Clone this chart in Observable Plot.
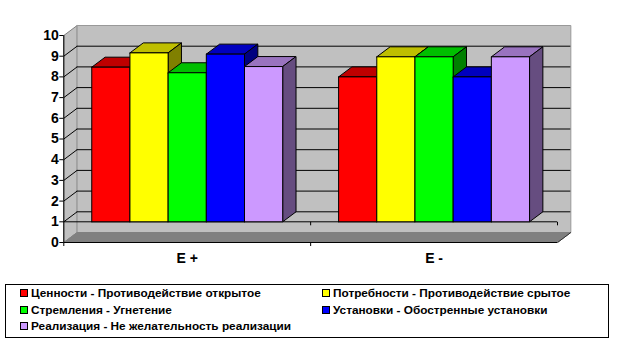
<!DOCTYPE html>
<html><head><meta charset="utf-8">
<script src="https://cdn.jsdelivr.net/npm/d3@7"></script>
<script src="https://cdn.jsdelivr.net/npm/@observablehq/plot@0.6"></script>
<style>
html,body{margin:0;padding:0;background:#fff;width:621px;height:357px;overflow:hidden}
svg{display:block;background:#fff}
#legend{position:absolute;left:5px;top:284px;width:602px;height:52px;border:1px solid #000;box-sizing:content-box;
 font:bold 11.8px "Liberation Sans",Arial,sans-serif;color:#000}
#legend div.i{position:absolute;white-space:nowrap;line-height:14px}
#legend span{position:absolute;left:-11px;top:3px;width:6px;height:6px;border:1px solid #000}
</style></head><body>
<div id="chart"></div><div id="legend"></div>
<script>
const categories = ["E +", "E -"];
const series = ["Ценности - Противодействие открытое","Потребности - Противодействие срытое","Стремления - Угнетение","Установки - Обостренные установки","Реализация - Не желательность реализации"];
const colors = ["#ff0000","#ffff00","#00ff00","#0000ff","#cc99ff"];
const valuesEplus = [8.47,9.16,8.2,9.1,8.5];
const valuesEminus = [8.0,8.97,8.97,8.0,8.97];
const yTicks = [0,1,2,3,4,5,6,7,8,9,10];
const axisBase = 1, barW = 0.1547, dX = 0.054, dY = 0.483;

function shade(c,k){const r=d3.rgb(c);return d3.rgb(r.r*k,r.g*k,r.b*k).formatHex();}
const polys=[];
function poly(id,pts,fill){for(const p of pts.concat([pts[0]]))polys.push({id,x:p[0],y:p[1],fill});}
[valuesEplus,valuesEminus].forEach((vals,g)=>{
  vals.forEach((v,s)=>{
    const x0=g+0.5+(s-2.5)*barW,x1=x0+barW,c=colors[s],id=g+"-"+s;
    poly(id+"t",[[x0,v],[x0+dX,v+dY],[x1+dX,v+dY],[x1,v]],shade(c,.75));
    poly(id+"s",[[x1,v],[x1+dX,v+dY],[x1+dX,axisBase+dY],[x1,axisBase]],shade(c,.5));
    poly(id+"f",[[x0,axisBase],[x0,v],[x1,v],[x1,axisBase]],c);
  });
});
const grid=yTicks.slice(1,10);
const plot=Plot.plot({
  width:621,height:280,marginLeft:63.3,marginRight:64,marginTop:35,marginBottom:38,
  x:{domain:[0,2],axis:null},
  y:{domain:[0,10],axis:null},
  color:{type:"identity"},
  marks:[
    Plot.line([[0,0],[dX,dY],[dX,10+dY],[0,10],[0,0]],{x:d=>d[0],y:d=>d[1],fill:"#c0c0c0",stroke:"#808080",strokeWidth:1}),
    Plot.line([[dX,dY],[2+dX,dY],[2+dX,10+dY],[dX,10+dY],[dX,dY]],{x:d=>d[0],y:d=>d[1],fill:"#c0c0c0",stroke:"#999",strokeWidth:1}),
    Plot.line([[0,0],[dX,dY],[2+dX,dY],[2,0],[0,0]],{x:d=>d[0],y:d=>d[1],fill:"#808080",stroke:"#808080",strokeWidth:1}),
    Plot.ruleY(grid,{y:d=>d+dY,x1:dX,x2:2+dX,stroke:"#000",strokeWidth:1}),
    Plot.link(grid,{x1:0,x2:dX,y1:d=>d,y2:d=>d+dY,stroke:"#000",strokeWidth:1}),
    Plot.ruleY([axisBase],{x1:0,x2:2,stroke:"#000",strokeWidth:1}),
    Plot.link([1,2],{x1:d=>d,x2:d=>d,y1:axisBase,y2:axisBase-0.17,stroke:"#000"}),
    Plot.link([0,1],{x1:d=>d,x2:d=>d,y1:0,y2:-0.17,stroke:"#000"}),
    Plot.line(polys,{x:"x",y:"y",z:"id",fill:"fill",stroke:"#000",strokeWidth:1,strokeLinejoin:"round"}),
    Plot.ruleX([0],{y1:0,y2:10,stroke:"#000",strokeWidth:1}),
    Plot.ruleY([0],{x1:0,x2:2,stroke:"#000",strokeWidth:1}),
    Plot.link([0],{x1:2,x2:2+dX,y1:0,y2:dY,stroke:"#333"}),
    Plot.axisY({ticks:yTicks,tickSize:4,tickPadding:1,tickFormat:d=>d,fontSize:14,fontWeight:"bold",fontFamily:"Liberation Sans",fill:"#000",label:null,stroke:"#000"}),
    Plot.text(categories,{x:(d,i)=>i+0.5,y:0,dy:16,text:d=>d,fontSize:14,fontWeight:"bold",fontFamily:"Liberation Sans",fill:"#000"})
  ]
});
document.getElementById("chart").append(plot);
const pos=[[25,1],[327,1],[25,18],[327,18],[25,34]];
const lg=document.getElementById("legend");
series.forEach((s,i)=>{
  const d=document.createElement("div");d.className="i";d.style.left=pos[i][0]+"px";d.style.top=pos[i][1]+"px";
  const sw=document.createElement("span");sw.style.background=colors[i];d.append(sw,document.createTextNode(s));lg.append(d);
});
</script></body></html>
